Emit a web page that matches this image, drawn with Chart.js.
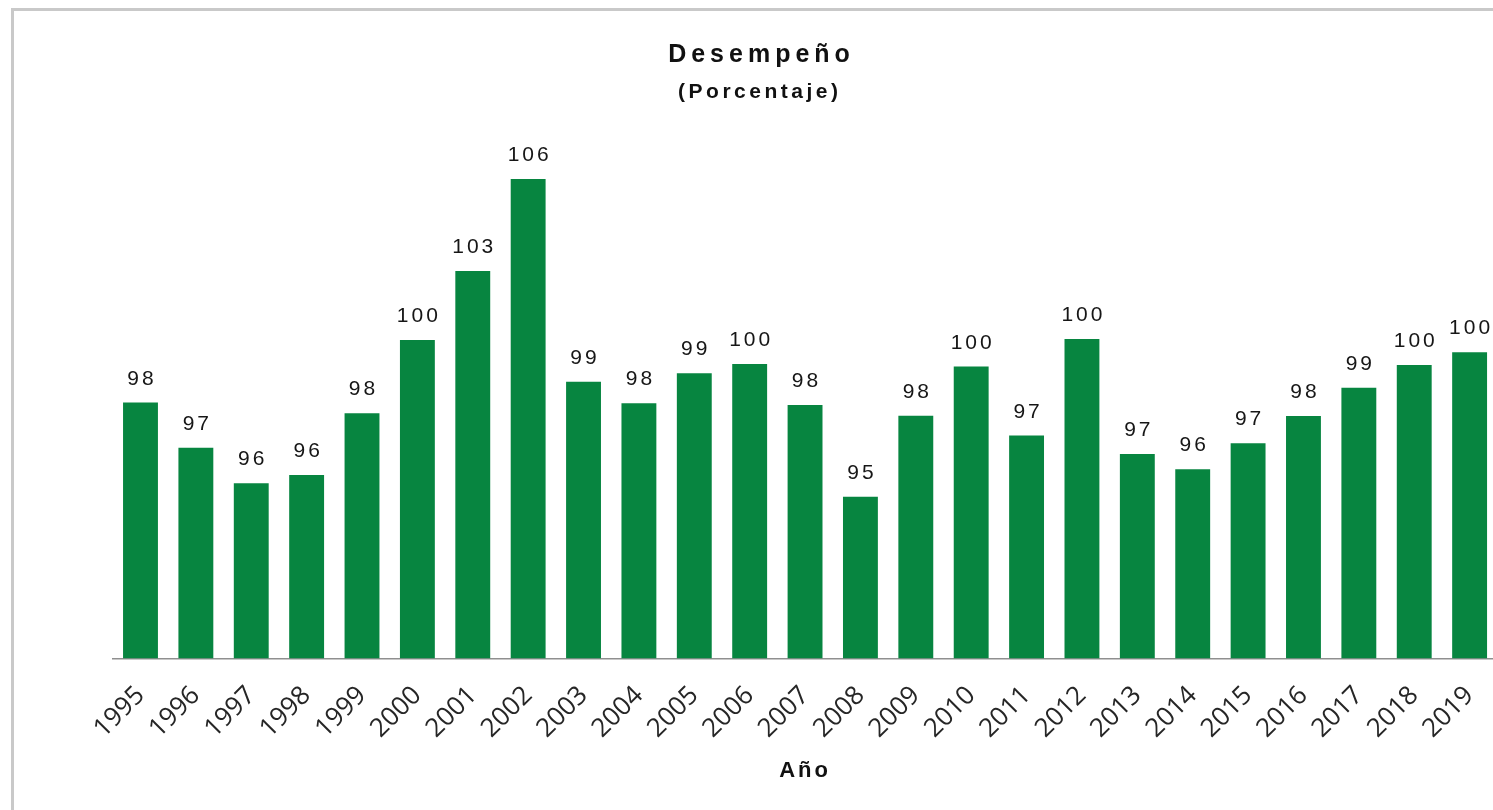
<!DOCTYPE html>
<html>
<head>
<meta charset="utf-8">
<script src="https://cdn.jsdelivr.net/npm/chart.js@4.4.1/dist/chart.umd.min.js"></script>
<style>
html,body{margin:0;padding:0;background:#fff;overflow:hidden;width:1493px;height:810px;}
#frame{position:absolute;left:11px;top:8px;width:1600px;height:900px;border:3px solid #c9c9c9;box-sizing:border-box;}
#wrap{position:absolute;left:0;top:0;width:1520px;height:810px;}
canvas{display:block;}
</style>
</head>
<body>
<div id="frame"></div>
<div id="wrap"><canvas id="c" width="1520" height="810"></canvas></div>
<script>
// ---- data ----
const years = ['1995','1996','1997','1998','1999','2000','2001','2002','2003','2004','2005','2006','2007','2008','2009','2010','2011','2012','2013','2014','2015','2016','2017','2018','2019'];
const desempeno = [98.37, 96.89, 95.73, 96.00, 98.02, 100.42, 102.68, 105.69, 99.05, 98.35, 99.33, 99.63, 98.29, 95.29, 97.94, 99.55, 97.29, 100.45, 96.69, 96.19, 97.04, 97.93, 98.86, 99.60, 100.02];
const titleMain = 'Desempeño';
const titleSub = '(Porcentaje)';
const xAxisTitle = 'Año';
const yMin = 90;
const yMax = 108;

const barColor = '#078540';

const spacingPlugin = {
  id: 'spacing',
  beforeDraw(chart) { chart.ctx.letterSpacing = '3px'; },
  afterDatasetsDraw(chart) {
    const ctx = chart.ctx;
    const meta = chart.getDatasetMeta(0);
    ctx.save();
    ctx.letterSpacing = '3px';
    ctx.font = '21px "Liberation Sans", Arial, sans-serif';
    ctx.fillStyle = '#161616';
    ctx.textAlign = 'center';
    ctx.textBaseline = 'alphabetic';
    meta.data.forEach((bar, i) => {
      ctx.fillText(String(Math.round(desempeno[i])), bar.x + 1.5, bar.y - 18);
    });
    ctx.restore();
    ctx.letterSpacing = '0px';
  },
  afterDraw(chart) {
    const ctx = chart.ctx;
    ctx.save();
    ctx.fillStyle = '#111';
    ctx.textAlign = 'center';
    ctx.textBaseline = 'alphabetic';
    ctx.letterSpacing = '5px';
    ctx.font = 'bold 25px "Liberation Sans", Arial, sans-serif';
    ctx.fillText(titleMain, 759 + 2.5, 62);
    ctx.letterSpacing = '3.5px';
    ctx.font = 'bold 21px "Liberation Sans", Arial, sans-serif';
    ctx.fillText(titleSub, 758 + 1.75, 98);
    ctx.restore();
    ctx.letterSpacing = '0px';
  }
};

new Chart(document.getElementById('c'), {
  type: 'bar',
  data: {
    labels: years,
    datasets: [{
      data: desempeno,
      backgroundColor: barColor,
      borderWidth: 0,
      categoryPercentage: 1,
      barPercentage: 0.63
    }]
  },
  options: {
    responsive: false,
    devicePixelRatio: 1,
    animation: false,
    layout: { padding: { left: 112.8, right: 22.7, top: 108.4, bottom: 25.5 } },
    plugins: { legend: { display: false }, tooltip: { enabled: false }, title: { display: false } },
    scales: {
      x: {
        grid: { display: false, drawTicks: false },
        border: { display: true, color: '#8f8f8f', width: 1.5 },
        ticks: {
          z: 1,
          autoSkip: false,
          minRotation: 45,
          maxRotation: 45,
          padding: 22,
          color: '#262626',
          font: { family: '"Open Sans", sans-serif', size: 26 }
        },
        title: {
          display: true,
          text: xAxisTitle,
          color: '#111',
          padding: 0,
          font: { family: '"Liberation Sans", Arial, sans-serif', size: 22, weight: 'bold' }
        },
        afterFit(scale) { scale.height = 126.2; scale.paddingLeft = 0; scale.paddingRight = 0; }
      },
      y: {
        display: false,
        min: yMin,
        max: yMax
      }
    }
  },
  plugins: [spacingPlugin]
});
</script>
</body>
</html>
